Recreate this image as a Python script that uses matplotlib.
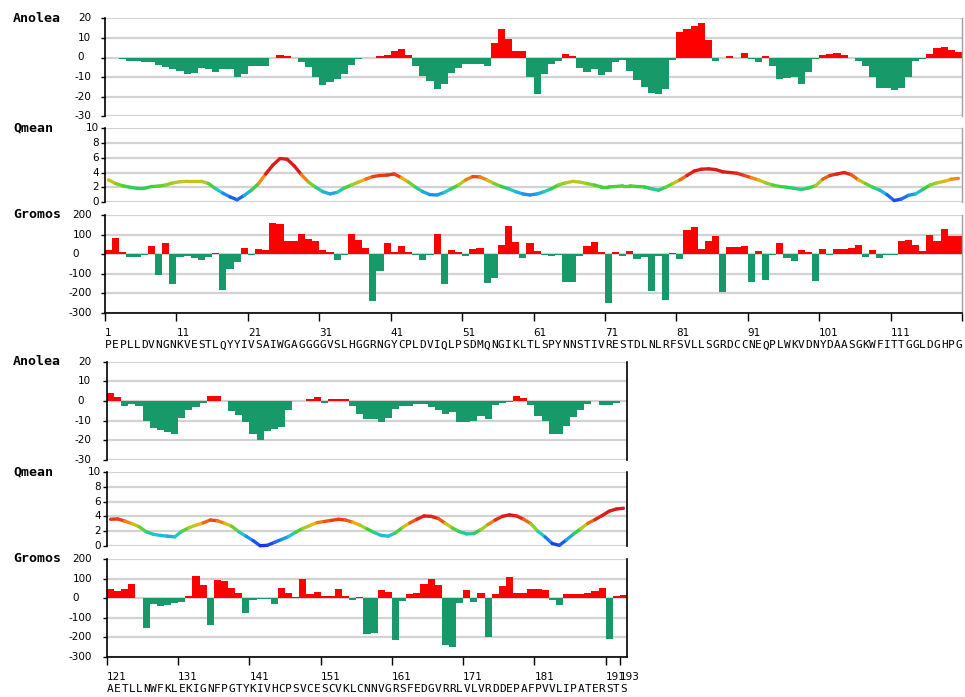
import numpy as np
import matplotlib
matplotlib.use("Agg")
import matplotlib.pyplot as plt
from matplotlib.collections import LineCollection
from matplotlib.colors import LinearSegmentedColormap, Normalize
from matplotlib import transforms

# ---------------- data ----------------
seq_top = "PEPLLDVNGNKVESTLQYYIVSAIWGAGGGGVSLHGGRNGYCPLDVIQLPSDMQNGIKLTLSPYNNSTIVRESTDLNLRFSVLLSGRDCCNEQPLWKVDNYDAASGKWFITTGGLDGHPG"
seq_bot = "AETLLNWFKLEKIGNFPGTYKIVHCPSVCESCVKLCNNVGRSFEDGVRRLVLVRDDEPAFPVVLIPATERSTS"
start_top = 1
start_bot = 121

anolea_top = [
    -0.3, -0.3, -0.7, -2, -2, -2.5, -2.5, -4, -5, -6,
    -7, -8.5, -8, -5.5, -6, -7.5, -6, -6, -10, -8.5,
    -4.5, -4.5, -4.5, -0.3, 1.5, 1, -0.3, -2.5, -5, -10,
    -14, -12.5, -11, -8.5, -4, -1, -0.3, -0.3, 1, 1.5,
    3.5, 4.5, 1.5, -4.5, -9.5, -12, -16, -13.5, -8, -5.5,
    -3.5, -3.5, -3.5, -4.5, 7.5, 14.5, 9.5, 3.5, 3.5, -10,
    -18.5, -8.5, -3.5, -2, 2, 1, -5.5, -7.5, -6, -9,
    -7.5, -2.5, -1.5, -7, -11.5, -15, -18, -18.5, -16, -1.5,
    13, 14.5, 16, 17.5, 9, -2, -0.3, 0.7, -0.3, 2.5,
    -0.7, -2.5, 1, -4.5, -11, -10.5, -10, -13.5, -7.5, -1,
    1.5, 2, 2.5, 1.5, -0.3, -2, -4.5, -10, -15.5, -15.5,
    -16.5, -15.5, -10, -2, -0.7, 2, 5, 5.5, 4, 3,
]

qmean_top = [
    3.0, 2.5, 2.2, 2.0, 1.85, 1.85, 2.1, 2.15, 2.3, 2.6,
    2.75, 2.8, 2.8, 2.8, 2.5, 1.8, 1.2, 0.7, 0.3, 0.9,
    1.6, 2.5, 3.8, 5.0, 5.9, 5.8, 4.9, 3.7, 2.7, 2.0,
    1.4, 1.1, 1.3, 1.9, 2.3, 2.7, 3.1, 3.45, 3.6, 3.65,
    3.8, 3.3, 2.7, 2.0, 1.4, 1.0, 0.95, 1.3, 1.8, 2.3,
    3.0, 3.45, 3.4, 3.0, 2.5, 2.1, 1.8, 1.4, 1.1, 0.95,
    1.1, 1.4, 1.8, 2.3, 2.6, 2.8, 2.7, 2.5, 2.3, 2.05,
    2.05, 2.1, 2.2, 2.2, 2.1, 2.05, 1.8, 1.6, 2.0, 2.5,
    3.0, 3.6, 4.2, 4.45, 4.5, 4.4, 4.1, 4.0, 3.9, 3.6,
    3.3, 3.0, 2.6, 2.3, 2.1, 2.0, 1.85, 1.7, 1.9, 2.2,
    3.1, 3.6, 3.8, 4.0, 3.7, 3.0, 2.5, 2.0, 1.6, 1.0,
    0.2, 0.4, 0.9, 1.1, 1.7, 2.3, 2.6, 2.8, 3.1, 3.2,
]

gromos_top = [
    22, 83, 10, -12, -12, -2, 40, -107, 58, -150,
    -12, -8, -20, -32, -15, 8, -182, -75, -40, 33,
    -3, 27, 22, 158, 152, 67, 67, 103, 78, 65,
    22, 10, -28, -3, 103, 72, 33, -240, -88, 57,
    10, 40, 10, -3, -32, -3, 102, -152, 22, 12,
    -8, 28, 33, -145, -120, 47, 145, 60, -18, 55,
    17, -3, -8, -3, -140, -140, -8, 42, 60, 12,
    -247, 10, -7, 15, -25, -12, -190, -8, -235, 8,
    -25, 125, 140, 25, 65, 92, -195, 35, 35, 42,
    -140, 17, -132, -5, 55, -20, -33, 23, 12, -135,
    28, -2, 28, 28, 33, 45, -12, 22, -18, -2,
    -5, 68, 72, 45, 15, 97, 65, 130, 92, 92,
]

anolea_bot = [
    4, 2, -2.5, -1.5, -2.5, -10, -14, -15, -16, -17,
    -8.5, -4.5, -3, -1, 2.5, 2.5, -0.3, -5, -7, -11,
    -17, -20, -15.5, -14.5, -13.5, -4.5, -0.3, -0.3, 1, 2,
    -1, 1, 1, 1, -2.5, -6.5, -9, -9, -11, -8.5,
    -4, -2.5, -2.5, -1.5, -1.5, -3, -4.5, -6.5, -5.5, -11,
    -11, -10, -7.5, -9, -2, -1, -0.5, 2.5, 1.5, -2,
    -7.5, -10, -17, -17, -13, -8, -4.5, -1.5, -0.3, -2,
    -2, -1, -0.3,
]

qmean_bot = [
    3.6, 3.65, 3.35, 3.0, 2.6, 1.9, 1.55, 1.4, 1.3, 1.2,
    1.95, 2.45, 2.8, 3.1, 3.5, 3.4, 3.05, 2.65, 1.9, 1.3,
    0.7, 0.0, 0.05, 0.45, 0.85, 1.25, 1.85, 2.35, 2.75, 3.15,
    3.3, 3.45, 3.6, 3.5, 3.2, 2.8, 2.3, 1.8, 1.4, 1.3,
    1.75, 2.5, 3.1, 3.6, 4.05, 4.0, 3.7, 3.05, 2.4, 1.9,
    1.6, 1.65, 2.2, 2.9, 3.5, 4.0, 4.2, 4.05, 3.6, 3.0,
    1.95, 1.2, 0.3, 0.05, 0.8, 1.6, 2.3, 3.05, 3.55, 4.1,
    4.7, 5.0, 5.1,
]

gromos_bot = [
    45, 38, 45, 70, -2, -152, -28, -38, -33, -27,
    -20, 10, 115, 65, -140, 95, 88, 52, 28, -77,
    -8, -3, -3, -32, 50, 27, 3, 97, 22, 33,
    10, 10, 45, 10, -8, 8, -183, -177, 40, 33,
    -215, -15, 20, 27, 70, 100, 65, -240, -250, -27,
    40, -20, 27, -197, 20, 63, 107, 27, 27, 45,
    45, 40, -8, -33, 20, 20, 20, 28, 38, 52,
    -210, 10, 15,
]

xticks_top = [1, 11, 21, 31, 41, 51, 61, 71, 81, 91, 101, 111]
xticks_bot = [121, 131, 141, 151, 161, 171, 181, 191, 193]
anolea_ticks = [20, 10, 0, -10, -20, -30]
qmean_ticks = [10, 8, 6, 4, 2, 0]
gromos_ticks = [200, 100, 0, -100, -200, -300]

# ---------------- figure ----------------
W, H = 965, 697
fig = plt.figure(figsize=(W / 100, H / 100), dpi=100)
fig.patch.set_facecolor("white")

RED = "#ff0000"
GREEN = "#17996a"
GRID = "#d2d2d2"

qcmap = LinearSegmentedColormap.from_list(
    "qm",
    [(0.0, "#1a30f0"), (0.25, "#2090ee"), (0.37, "#20c8d8"), (0.5, "#30d040"),
     (0.65, "#a8d020"), (0.75, "#f0b010"), (0.87, "#f04018"), (1.0, "#e01818")])
qnorm = Normalize(0, 4.0)

mono = "DejaVu Sans Mono"


def add_ax(x0, x1, yt, yb):
    return fig.add_axes([x0 / W, 1 - yb / H, (x1 - x0) / W, (yb - yt) / H])


def base_style(ax, ticks, right_color, right_lw):
    ax.set_ylim(min(ticks), max(ticks))
    ax.set_yticks(ticks)
    ax.tick_params(axis="y", direction="out", length=3, width=1, labelleft=False)
    ax.yaxis.grid(True, color=GRID, linewidth=1.6)
    ax.set_axisbelow(True)
    ax.spines["top"].set_visible(False)
    ax.spines["left"].set_linewidth(1.2)
    ax.spines["right"].set_color(right_color)
    ax.spines["right"].set_linewidth(right_lw)


def ylabels(ax, ticks, x0, w, right_px, zero_left_px=None):
    tr = ax.get_yaxis_transform()
    for t in ticks:
        if t == 0 and zero_left_px is not None:
            ax.text((zero_left_px - x0) / w, t, "0", ha="left", va="center",
                    transform=tr, fontsize=7.5, clip_on=False)
        else:
            ax.text((right_px - x0) / w, t, str(t), ha="right", va="center",
                    transform=tr, fontsize=7.5, clip_on=False)


def draw_block(start, seq, an, qm, gr, x0, x1, ys, xticks, right_color, right_lw, end_tick):
    n = len(seq)
    r = np.arange(start, start + n)
    xlim = (start - 0.5, start + n - 0.5)
    w = x1 - x0
    (a_t, a_b), (q_t, q_b), (g_t, g_b) = ys

    # Anolea
    ax = add_ax(x0, x1, a_t, a_b)
    base_style(ax, anolea_ticks, right_color, right_lw)
    an = np.array(an)
    ax.bar(r, an, width=1.0, color=np.where(an > 0, RED, GREEN), linewidth=0, zorder=2)
    ax.set_xlim(*xlim)
    ax.spines["bottom"].set_visible(False)
    ax.tick_params(axis="x", bottom=False, labelbottom=False)
    ylabels(ax, anolea_ticks, x0, w, 91, 77)
    fig.text(13 / W, 1 - a_t / H, "Anolea", family=mono, weight="bold", fontsize=9.5, va="center")

    # Qmean
    ax = add_ax(x0, x1, q_t, q_b)
    base_style(ax, qmean_ticks, right_color, right_lw)
    qm = np.array(qm)
    pts = np.column_stack([r, qm])
    segs = np.stack([pts[:-1], pts[1:]], axis=1)
    cols = qcmap(qnorm((qm[:-1] + qm[1:]) / 2))
    lc = LineCollection(segs, colors=cols, linewidths=2.4, capstyle="round",
                        joinstyle="round", zorder=3, clip_on=False)
    ax.add_collection(lc)
    ax.set_xlim(*xlim)
    ax.spines["bottom"].set_visible(False)
    ax.tick_params(axis="x", bottom=False, labelbottom=False)
    ylabels(ax, qmean_ticks, x0, w, x0 - 6)
    fig.text(13 / W, 1 - q_t / H, "Qmean", family=mono, weight="bold", fontsize=9.5, va="center")

    # Gromos
    ax = add_ax(x0, x1, g_t, g_b)
    base_style(ax, gromos_ticks, right_color, right_lw)
    gr = np.array(gr)
    ax.bar(r, gr, width=1.0, color=np.where(gr > 0, RED, GREEN), linewidth=0, zorder=2)
    ax.set_xlim(*xlim)
    ax.spines["bottom"].set_linewidth(1.2)
    tick_pos = [t - 0.5 for t in xticks]
    if end_tick:
        tick_pos = tick_pos + [start + n - 0.5]
    ax.set_xticks(tick_pos)
    ax.tick_params(axis="x", direction="out", length=5.5, width=1, labelbottom=False)
    ylabels(ax, gromos_ticks, x0, w, 92, 72)
    fig.text(13 / W, 1 - g_t / H, "Gromos", family=mono, weight="bold", fontsize=9.5, va="center")

    hpx = g_b - g_t
    btr = transforms.blended_transform_factory(ax.transData, ax.transAxes)
    for t in xticks:
        ax.text(t - 0.5, -20.5 / hpx, str(t), ha="left", va="center", transform=btr,
                fontsize=7.5, clip_on=False)
    for i, ch in enumerate(seq):
        ax.text(r[i], -32.5 / hpx, ch, ha="center", va="center", transform=btr,
                family=mono, fontsize=8, clip_on=False)


draw_block(start_top, seq_top, anolea_top, qmean_top, gromos_top,
           105, 962, [(18.3, 116.3), (128.3, 202.0), (215.0, 313.0)],
           xticks_top, "#a0a0a0", 1.0, True)
draw_block(start_bot, seq_bot, anolea_bot, qmean_bot, gromos_bot,
           107, 627, [(361.7, 459.7), (472.3, 545.7), (559.0, 656.7)],
           xticks_bot, "black", 1.2, False)

fig.savefig("out.png", dpi=100, facecolor="white")
